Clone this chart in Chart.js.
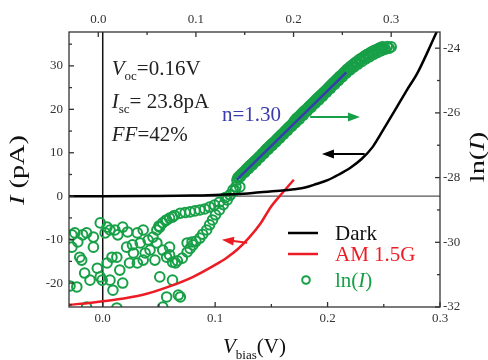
<!DOCTYPE html>
<html>
<head>
<meta charset="utf-8">
<script src="https://cdn.jsdelivr.net/npm/chart.js@4.4.1/dist/chart.umd.min.js"></script>
<style>
  html, body { margin: 0; padding: 0; background: #fff; }
  #wrap { width: 488px; height: 360px; }
</style>
</head>
<body>
<div id="wrap"><canvas id="ivChart" width="488" height="360"></canvas></div>
<script>
// I-V curves (bottom / left axes)
const darkV = [-0.03, 0.0, 0.04, 0.08, 0.10, 0.12, 0.14, 0.16, 0.17, 0.18, 0.19, 0.20, 0.21, 0.22, 0.23, 0.24, 0.25, 0.26, 0.27, 0.28, 0.29, 0.297, 0.30];
const darkI = [0, 0, 0.05, 0.15, 0.3, 0.5, 0.9, 1.3, 1.6, 2.0, 2.8, 3.7, 5.0, 6.5, 8.5, 11.3, 15.5, 19.8, 24.2, 28.4, 33.8, 37.8, 39.5];

const amV = [-0.03, -0.01, 0.0, 0.02, 0.04, 0.06, 0.08, 0.10, 0.11, 0.12, 0.13, 0.14, 0.15, 0.16, 0.17];
const amI = [-25.0, -24.5, -24.2, -23.5, -22.4, -20.7, -18.6, -15.8, -14.2, -12.2, -9.6, -6.4, -2.3, 0.8, 3.8];

// ln(I) vs V (top / right axes): dense forward-bias band
const bandV = [0.142, 0.144, 0.146, 0.148, 0.150, 0.152, 0.154, 0.156, 0.158, 0.160,
  0.162, 0.164, 0.166, 0.168, 0.170, 0.172, 0.174, 0.176, 0.178, 0.180,
  0.182, 0.184, 0.186, 0.188, 0.190, 0.192, 0.194, 0.196, 0.198, 0.200,
  0.202, 0.204, 0.206, 0.208, 0.210, 0.212, 0.214, 0.216, 0.218, 0.220,
  0.222, 0.224, 0.226, 0.228, 0.230, 0.232, 0.234, 0.236, 0.238, 0.240,
  0.242, 0.244, 0.246, 0.248, 0.250, 0.252, 0.254, 0.256, 0.258, 0.260,
  0.262, 0.264, 0.266, 0.268, 0.270, 0.272, 0.274, 0.276, 0.278, 0.280,
  0.282, 0.284, 0.286, 0.288, 0.290, 0.292, 0.294, 0.296, 0.298, 0.300];
const bandLn = [-28.08, -27.98, -27.96, -27.86, -27.84, -27.74, -27.72, -27.62, -27.61, -27.51,
  -27.49, -27.39, -27.37, -27.27, -27.25, -27.14, -27.13, -27.02, -27.01, -26.91,
  -26.90, -26.79, -26.78, -26.67, -26.66, -26.55, -26.54, -26.43, -26.42, -26.31,
  -26.30, -26.19, -26.19, -26.08, -26.07, -25.96, -25.95, -25.84, -25.83, -25.72,
  -25.71, -25.60, -25.60, -25.49, -25.48, -25.37, -25.36, -25.25, -25.24, -25.13,
  -25.12, -25.01, -25.00, -24.90, -24.89, -24.78, -24.77, -24.66, -24.67, -24.56,
  -24.58, -24.46, -24.49, -24.37, -24.41, -24.29, -24.33, -24.21, -24.26, -24.14,
  -24.19, -24.08, -24.13, -24.02, -24.08, -23.98, -24.03, -23.95, -24.00, -23.96];
// second sweep over the same range
const sweep2V = [0.143, 0.145, 0.147, 0.149, 0.151, 0.153, 0.155, 0.157, 0.159, 0.161,
  0.163, 0.165, 0.167, 0.169, 0.171, 0.173, 0.175, 0.177, 0.179, 0.181,
  0.183, 0.185, 0.187, 0.189, 0.191, 0.193, 0.195, 0.197, 0.199, 0.201,
  0.203, 0.205, 0.207, 0.209, 0.211, 0.213, 0.215, 0.217, 0.219, 0.221,
  0.223, 0.225, 0.227, 0.229, 0.231, 0.233, 0.235, 0.237, 0.239, 0.241,
  0.243, 0.245, 0.247, 0.249, 0.251, 0.253, 0.255, 0.257, 0.259, 0.261,
  0.263, 0.265, 0.267, 0.269, 0.271, 0.273, 0.275, 0.277, 0.279, 0.281,
  0.283, 0.285, 0.287, 0.289, 0.291];
const sweep2Ln = [-28.00, -27.94, -27.88, -27.82, -27.76, -27.70, -27.64, -27.58, -27.53, -27.47,
  -27.41, -27.35, -27.29, -27.23, -27.16, -27.10, -27.04, -26.98, -26.93, -26.87,
  -26.81, -26.75, -26.69, -26.63, -26.57, -26.51, -26.45, -26.39, -26.33, -26.24,
  -26.17, -26.12, -26.06, -26.00, -25.94, -25.89, -25.83, -25.77, -25.71, -25.65,
  -25.59, -25.53, -25.47, -25.42, -25.36, -25.30, -25.24, -25.18, -25.12, -25.06,
  -25.00, -24.94, -24.88, -24.83, -24.77, -24.71, -24.65, -24.60, -24.55, -24.50,
  -24.45, -24.41, -24.36, -24.32, -24.28, -24.24, -24.20, -24.17, -24.13, -24.10,
  -24.07, -24.04, -24.01, -23.98, -23.96];

const upperBranch = [[0.145, -28.29], [0.140, -28.40], [0.135, -28.54], [0.130, -28.62], [0.124, -28.76],
  [0.119, -28.85], [0.114, -28.91], [0.109, -28.97], [0.104, -29.00], [0.099, -29.03], [0.094, -29.06],
  [0.089, -29.08], [0.084, -29.10], [0.078, -29.17], [0.073, -29.25], [0.069, -29.33], [0.066, -29.40],
  [0.062, -29.50], [0.060, -29.62]];
const lowerBranch = [[0.141, -28.28], [0.138, -28.38], [0.135, -28.53], [0.132, -28.69], [0.128, -28.84],
  [0.124, -29.00], [0.120, -29.15], [0.117, -29.31], [0.114, -29.46], [0.111, -29.62], [0.107, -29.75],
  [0.104, -29.87], [0.100, -29.97], [0.097, -30.08], [0.094, -30.19], [0.091, -30.30], [0.086, -30.49],
  [0.081, -30.57], [0.076, -30.61], [0.073, -30.39], [0.066, -30.24]];
const lowBiasLn = [[-0.027, -29.77], [-0.024, -29.71], [-0.021, -29.99], [-0.016, -29.77], [-0.012, -29.71],
  [-0.005, -29.84], [0.002, -29.40], [0.007, -29.71], [0.009, -29.53], [0.012, -29.62], [0.017, -29.62],
  [0.020, -29.77], [0.025, -29.53], [0.030, -29.68], [0.035, -30.08], [0.040, -29.71], [0.046, -29.62],
  [0.051, -29.93], [0.056, -29.84], [0.063, -29.53], [0.070, -29.31], [0.076, -29.22], [0.091, -30.02],
  [0.096, -29.99], [-0.027, -30.15], [-0.019, -30.46], [-0.017, -30.55], [-0.014, -30.95], [-0.022, -31.38],
  [-0.029, -31.35], [-0.0085, -31.17], [-0.005, -30.15], [-0.001, -30.80], [0.002, -31.07], [0.004, -31.17],
  [0.009, -30.64], [0.012, -31.17], [0.014, -30.46], [0.015, -31.48], [0.019, -30.46], [0.022, -30.86],
  [0.025, -31.26], [0.029, -30.15], [0.032, -30.64], [0.036, -30.33], [0.040, -30.64], [0.043, -30.02],
  [0.046, -30.55], [0.048, -30.33], [0.053, -30.24], [0.058, -30.55], [0.060, -30.02], [0.063, -31.07],
  [0.070, -30.46], [0.073, -30.15], [0.076, -31.17], [0.079, -30.64], [0.082, -31.63], [0.084, -31.69],
  [0.070, -31.69], [0.066, -32.0], [-0.012, -32.0], [0.019, -32.03]];

// linear fit, n = 1.30
const fitV = [0.142, 0.254];
const fitLn = [-28.06, -24.75];

// axis ticks
const vTicks = [0, 0.1, 0.2, 0.3];
const vMinor = [0.05, 0.15, 0.25];
const vTopTicks = [0, 0.1, 0.2, 0.3];
const vTopMinor = [0.05, 0.15, 0.25];
const iTicks = [-20, -10, 0, 10, 20, 30];
const iMinor = [-25, -15, -5, 5, 15, 25, 35];
const lnTicks = [-32, -30, -28, -26, -24];
const lnMinor = [-31, -29, -27, -25];

const GREEN = '#17a047';
const RED = '#ec1c24';
const BLUE = '#3a3cae';
const SERIF = '"Liberation Serif", "Times New Roman", serif';

const pts = (xs, ys) => xs.map((x, i) => ({ x, y: ys[i] }));
const pairs = arr => arr.map(p => ({ x: p[0], y: p[1] }));

function fontOf(p) {
  return (p.i ? 'italic ' : '') + p.s + 'px ' + SERIF;
}

function drawRich(ctx, x, y, parts, color, align) {
  let w = 0;
  parts.forEach(p => { ctx.font = fontOf(p); w += ctx.measureText(p.t).width; });
  let cx = align === 'center' ? x - w / 2 : x;
  parts.forEach(p => {
    ctx.font = fontOf(p);
    ctx.fillStyle = p.c || color;
    ctx.fillText(p.t, cx, y + (p.dy || 0));
    cx += ctx.measureText(p.t).width;
  });
  return w;
}

function arrow(ctx, x1, y1, x2, y2, color) {
  const ang = Math.atan2(y2 - y1, x2 - x1);
  const len = 12, half = 4.5;
  ctx.strokeStyle = color;
  ctx.fillStyle = color;
  ctx.lineWidth = 2;
  ctx.beginPath();
  ctx.moveTo(x1, y1);
  ctx.lineTo(x2 - Math.cos(ang) * len * 0.8, y2 - Math.sin(ang) * len * 0.8);
  ctx.stroke();
  ctx.beginPath();
  ctx.moveTo(x2, y2);
  ctx.lineTo(x2 - Math.cos(ang) * len + Math.sin(ang) * half, y2 - Math.sin(ang) * len - Math.cos(ang) * half);
  ctx.lineTo(x2 - Math.cos(ang) * len - Math.sin(ang) * half, y2 - Math.sin(ang) * len + Math.cos(ang) * half);
  ctx.closePath();
  ctx.fill();
}

const decor = {
  id: 'decor',
  beforeDatasetsDraw(chart) {
    const { ctx, chartArea: a, scales } = chart;
    ctx.save();
    // I = 0 baseline
    const y0 = scales.y.getPixelForValue(0);
    ctx.strokeStyle = '#555';
    ctx.lineWidth = 1.2;
    ctx.beginPath();
    ctx.moveTo(a.left, y0);
    ctx.lineTo(a.right, y0);
    ctx.stroke();
    // V = 0 line
    const x0 = scales.x.getPixelForValue(0);
    ctx.strokeStyle = '#111';
    ctx.lineWidth = 1.5;
    ctx.beginPath();
    ctx.moveTo(x0, a.top);
    ctx.lineTo(x0, a.bottom);
    ctx.stroke();
    ctx.restore();
  },
  afterDatasetsDraw(chart) {
    const { ctx, chartArea: a, scales } = chart;
    ctx.save();
    ctx.strokeStyle = '#333';
    ctx.lineWidth = 1.3;
    ctx.strokeRect(a.left, a.top, a.right - a.left, a.bottom - a.top);

    const tick = (scale, vals, len, side) => {
      vals.forEach(v => {
        const p = scale.getPixelForValue(v);
        ctx.beginPath();
        if (side === 'bottom') { ctx.moveTo(p, a.bottom); ctx.lineTo(p, a.bottom - len); }
        if (side === 'top') { ctx.moveTo(p, a.top); ctx.lineTo(p, a.top + len); }
        if (side === 'left') { ctx.moveTo(a.left, p); ctx.lineTo(a.left + len, p); }
        if (side === 'right') { ctx.moveTo(a.right, p); ctx.lineTo(a.right - len, p); }
        ctx.stroke();
      });
    };
    tick(scales.x, vTicks, 5, 'bottom');
    tick(scales.x, vMinor, 3, 'bottom');
    tick(scales.x2, vTopTicks, 5, 'top');
    tick(scales.x2, vTopMinor, 3, 'top');
    tick(scales.y, iTicks, 5, 'left');
    tick(scales.y, iMinor, 3, 'left');
    tick(scales.y2, lnTicks, 5, 'right');
    tick(scales.y2, lnMinor, 3, 'right');

    // arrows pointing to each curve's axis
    const g1 = scales.x2.getPixelForValue(0.217), g2 = scales.x2.getPixelForValue(0.268);
    const gy = scales.y2.getPixelForValue(-26.13);
    arrow(ctx, g1, gy, g2, gy, GREEN);
    const b1 = scales.x.getPixelForValue(0.233), b2 = scales.x.getPixelForValue(0.195);
    const by = scales.y.getPixelForValue(9.7);
    arrow(ctx, b1, by, b2, by, '#000');
    const r1 = scales.x.getPixelForValue(0.1285), r2 = scales.x.getPixelForValue(0.106);
    arrow(ctx, r1, scales.y.getPixelForValue(-10.7), r2, scales.y.getPixelForValue(-10.0), RED);
    ctx.restore();
  },
  afterDraw(chart) {
    const { ctx, chartArea: a, scales } = chart;
    ctx.save();
    ctx.textBaseline = 'alphabetic';

    // device parameters
    const tx = scales.x.getPixelForValue(0.008);
    drawRich(ctx, tx, scales.y.getPixelForValue(27.9), [
      { t: 'V', s: 21, i: true }, { t: 'oc', s: 13, dy: 5 }, { t: '=0.16V', s: 21 }], '#222');
    drawRich(ctx, tx, scales.y.getPixelForValue(20.3), [
      { t: 'I', s: 21, i: true }, { t: 'sc', s: 13, dy: 5 }, { t: '= 23.8pA', s: 21 }], '#222');
    drawRich(ctx, tx, scales.y.getPixelForValue(12.7), [
      { t: 'FF', s: 21, i: true }, { t: '=42%', s: 21 }], '#222');
    drawRich(ctx, scales.x.getPixelForValue(0.106), scales.y.getPixelForValue(17.3), [
      { t: 'n=1.30', s: 21 }], BLUE);

    // legend
    const lx = a.left + 219, tx2 = a.left + 266;
    ctx.lineWidth = 2.5;
    ctx.strokeStyle = '#000';
    ctx.beginPath(); ctx.moveTo(lx, 233); ctx.lineTo(lx + 30, 233); ctx.stroke();
    ctx.strokeStyle = RED;
    ctx.beginPath(); ctx.moveTo(lx, 254); ctx.lineTo(lx + 30, 254); ctx.stroke();
    ctx.strokeStyle = GREEN;
    ctx.lineWidth = 2;
    ctx.beginPath(); ctx.arc(lx + 18, 280, 3.8, 0, Math.PI * 2); ctx.stroke();
    drawRich(ctx, tx2, 240, [{ t: 'Dark', s: 21 }], '#111');
    drawRich(ctx, tx2, 261, [{ t: 'AM 1.5G', s: 21 }], RED);
    drawRich(ctx, tx2, 287, [{ t: 'ln(', s: 21 }, { t: 'I', s: 21, i: true }, { t: ')', s: 21 }], GREEN);

    // axis titles
    drawRich(ctx, 223, 353, [{ t: 'V', s: 21, i: true }, { t: 'bias', s: 13, dy: 6 }, { t: '(V)', s: 21 }], '#111');

    ctx.save();
    ctx.translate(24, 170);
    ctx.rotate(-Math.PI / 2);
    ctx.scale(1.35, 1);
    drawRich(ctx, 0, 0, [{ t: 'I', s: 21, i: true }, { t: ' (pA)', s: 21 }], '#111', 'center');
    ctx.restore();

    ctx.save();
    ctx.translate(484, 157);
    ctx.rotate(-Math.PI / 2);
    ctx.scale(1.35, 1);
    drawRich(ctx, 0, 0, [{ t: 'ln(', s: 21 }, { t: 'I', s: 21, i: true }, { t: ')', s: 21 }], '#111', 'center');
    ctx.restore();

    ctx.restore();
  }
};

const tickFont = { family: SERIF, size: 13 };
const axisBase = {
  type: 'linear',
  grid: { display: false, drawTicks: false },
  border: { display: false }
};

new Chart(document.getElementById('ivChart'), {
  type: 'scatter',
  data: {
    datasets: [
      {
        label: 'fit',
        data: pts(fitV, fitLn),
        xAxisID: 'x2', yAxisID: 'y2',
        showLine: true, pointRadius: 0,
        borderColor: BLUE, borderWidth: 2.5,
        order: 0
      },
      {
        label: 'Dark',
        data: pts(darkV, darkI),
        xAxisID: 'x', yAxisID: 'y',
        showLine: true, pointRadius: 0,
        borderColor: '#000', borderWidth: 2.5,
        cubicInterpolationMode: 'monotone',
        order: 1
      },
      {
        label: 'AM 1.5G',
        data: pts(amV, amI),
        xAxisID: 'x', yAxisID: 'y',
        showLine: true, pointRadius: 0,
        borderColor: RED, borderWidth: 2.5,
        cubicInterpolationMode: 'monotone',
        order: 2
      },
      {
        label: 'ln(I)',
        data: pts(bandV, bandLn).concat(pts(sweep2V, sweep2Ln), pairs(upperBranch), pairs(lowerBranch), pairs(lowBiasLn)),
        xAxisID: 'x2', yAxisID: 'y2',
        pointRadius: 4.8, pointBorderWidth: 2,
        pointBorderColor: GREEN, pointBackgroundColor: 'rgba(0,0,0,0)',
        order: 3
      }
    ]
  },
  options: {
    responsive: false,
    animation: false,
    devicePixelRatio: 1,
    layout: { padding: 0 },
    plugins: { legend: { display: false }, tooltip: { enabled: false } },
    scales: {
      x: {
        ...axisBase, position: 'bottom', min: -0.03, max: 0.3,
        afterBuildTicks: s => { s.ticks = vTicks.map(v => ({ value: v })); },
        afterFit: s => { s.height = 53; },
        ticks: { font: tickFont, color: '#333', padding: 4, maxRotation: 0, autoSkip: false, callback: v => v.toFixed(1) }
      },
      x2: {
        ...axisBase, position: 'top', min: -0.03, max: 0.35,
        afterBuildTicks: s => { s.ticks = vTopTicks.map(v => ({ value: v })); },
        afterFit: s => { s.height = 32; },
        ticks: { font: tickFont, color: '#333', padding: 5, maxRotation: 0, autoSkip: false, callback: v => v.toFixed(1) }
      },
      y: {
        ...axisBase, position: 'left', min: -25.5, max: 37.8,
        afterBuildTicks: s => { s.ticks = iTicks.map(v => ({ value: v })); },
        afterFit: s => { s.width = 69; },
        ticks: { font: tickFont, color: '#333', padding: 6, autoSkip: false, callback: v => String(v) }
      },
      y2: {
        ...axisBase, position: 'right', min: -32, max: -23.5,
        afterBuildTicks: s => { s.ticks = lnTicks.map(v => ({ value: v })); },
        afterFit: s => { s.width = 48; },
        ticks: { font: tickFont, color: '#333', padding: 3, autoSkip: false, callback: v => String(v) }
      }
    }
  },
  plugins: [decor]
});
</script>
</body>
</html>
